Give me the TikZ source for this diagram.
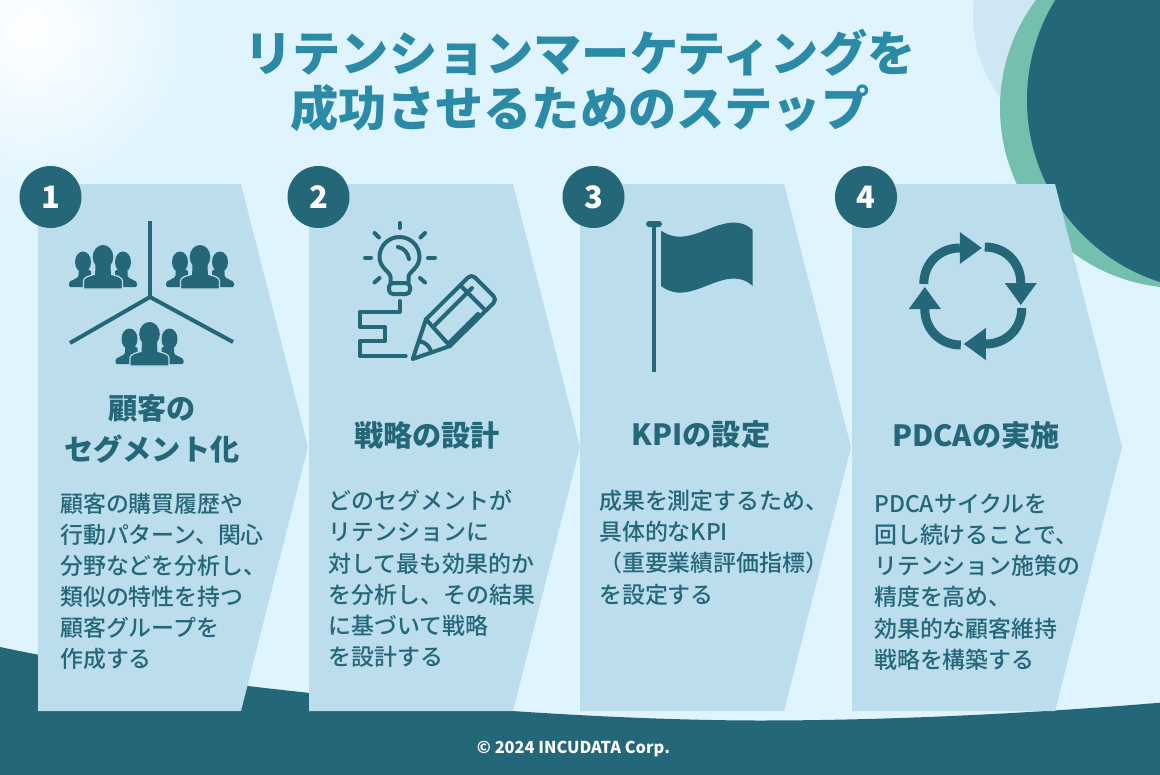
\documentclass[tikz,border=0pt]{standalone}
\usepackage{fontspec}
\setmainfont{Noto Sans CJK JP}
\newfontfamily\jpmedium{Noto Sans CJK JP Medium}
\usetikzlibrary{positioning}

\definecolor{deepteal}{HTML}{246778}
\definecolor{titleteal}{HTML}{2B8AA6}
\definecolor{mintgreen}{HTML}{75BFAE}
\definecolor{palesky}{HTML}{DFF4FF}
\definecolor{paleblue}{HTML}{CFE7F5}
\definecolor{panelblue}{HTML}{BBDDEC}

\tikzset{
  numdot/.style={circle,fill=deepteal,text=white,inner sep=0pt,minimum size=62bp,font=\fontsize{31}{31}\selectfont\bfseries},
  headtext/.style={text=deepteal,align=center,inner sep=0pt,font=\fontsize{29.3}{42}\selectfont\bfseries},
  bodytext/.style={text=deepteal,align=left,anchor=north west,inner sep=0pt,font=\fontsize{23}{31.3}\selectfont\jpmedium},
  titletext/.style={text=titleteal,align=center,inner sep=0pt,font=\fontsize{48.4}{55.5}\selectfont\bfseries},
  iconline/.style={draw=deepteal,line width=4bp,line cap=round,line join=round},
  sideperson/.pic={
    \fill[deepteal] (0,-25) ellipse (8 and 10.5);
    \fill[deepteal,rounded corners=1.5] (-4.5,-17) -- (-4.5,-10) -- (-14,-5) -- (-14,0) -- (8,0) -- (8,-17) -- cycle;
  },
  people/.pic={
    \pic at (-20,0) {sideperson};
    \pic[xscale=-1] at (20,0) {sideperson};
    \fill[deepteal,draw=panelblue,line width=1.2bp] (0,-30) ellipse (10.3 and 12);
    \fill[deepteal,draw=panelblue,line width=1.2bp] (-19.5,2) -- (-19.5,-6) .. controls (-19.5,-10) and (-14,-11) .. (-7,-13) -- (7,-13) .. controls (14,-11) and (19.5,-10) .. (19.5,-6) -- (19.5,2) -- cycle;
    \fill[deepteal] (-8,-10) -- (-7.5,-22) -- (7.5,-22) -- (8,-10) -- cycle;
    \fill[deepteal] (0,-30) ellipse (10.3 and 12);
  },
  cyclearrow/.pic={
    \draw[deepteal,line width=9bp] (-49,-12) .. controls (-49,-33) and (-33,-48) .. (-13,-48);
    \fill[deepteal] (-13,-64) -- (9,-48) -- (-13,-32) -- cycle;
  }
}

\begin{document}
\begin{tikzpicture}[x=1bp,y=-1bp]
\useasboundingbox (0,0) rectangle (1160,775);
\clip (0,0) rectangle (1160,775);

% background
\fill[palesky] (0,0) rectangle (1160,775);
\shade[inner color=white,outer color=palesky] (30,30) circle (170);
\fill[paleblue] (1111,15) circle (138);
\fill[mintgreen] (1180,108) circle (180);
\fill[deepteal] (1218,100) circle (191);
\fill[deepteal] (0,647) .. controls (83,664.5) and (165,676.5) .. (248,686) .. controls (340,697) and (440,706) .. (512,711) .. controls (600,717) and (690,720.5) .. (760,720.5) .. controls (900,720.5) and (1050,712) .. (1160,702.7) -- (1160,775) -- (0,775) -- cycle;

% panels
\fill[panelblue] (38,184) -- (241,184) -- (308,447) -- (241,711) -- (38,711) -- cycle;
\fill[panelblue] (309,184) -- (513,184) -- (580,447) -- (513,711) -- (309,711) -- cycle;
\fill[panelblue] (580,184) -- (784,184) -- (851,447) -- (784,711) -- (580,711) -- cycle;
\fill[panelblue] (852,184) -- (1055,184) -- (1122,447) -- (1055,711) -- (852,711) -- cycle;

\node[titletext] (title) at (580,80.5) {リテンションマーケティングを\\成功させるためのステップ};

\node[numdot] (num1) at (50.5,197) {1};
\node[numdot] (num2) at (318.5,197) {2};
\node[numdot] (num3) at (593.5,197) {3};
\node[numdot] (num4) at (866,197) {4};

% step 1 icon
\draw[deepteal,line width=4bp] (150,221) -- (150,297);
\draw[deepteal,line width=4bp] (70,343) -- (150,297) -- (233,342);
\pic at (103,287) {people};
\pic at (200,287) {people};
\pic at (149.5,364) {people};

% step 2 icon
\draw[iconline] (390.5,282) -- (390.5,277) .. controls (390.5,272) and (379.5,268) .. (379.5,257) arc[start angle=180,end angle=360,radius=20] .. controls (419.5,268) and (408.5,272) .. (408.5,277) -- (408.5,282);
\draw[iconline,rounded corners=4] (389,283) -- (389,294) -- (410,294) -- (410,283) -- cycle;
\draw[iconline] (398,247) .. controls (404,248) and (408,253) .. (409,259);
\draw[iconline] (399.5,223) -- (399.5,228);
\draw[iconline] (365,257.7) -- (371,257.7);
\draw[iconline] (428,257.7) -- (435,257.7);
\draw[iconline] (374.5,233) -- (379,237.5);
\draw[iconline] (425,233) -- (420.5,237.5);
\draw[iconline] (374.5,282.5) -- (379.5,278);
\draw[iconline] (425,282.5) -- (420,278);
\draw[iconline] (399.7,301) -- (399.7,311.7) -- (360,311.7) -- (360,326.7) -- (385,326.7) -- (385,341) -- (360,341) -- (360,356) -- (405.7,356);
\draw[iconline] (412.7,359) -- (426,319.3) -- (468,277.5) .. controls (470,275.5) and (473,275.5) .. (475,277.5) -- (493.5,296) .. controls (495.5,298) and (495.5,301) .. (493.5,303) -- (450,346) -- cycle;
\draw[iconline] (462,287) -- (484,309);
\draw[iconline] (426,319.3) -- (450,346);
\draw[iconline] (433,327) -- (472,288);
\draw[iconline] (449,343) -- (478,314);
\draw[iconline] (420,341.5) .. controls (425,342) and (429,346) .. (430.5,350);

% step 3 icon
\fill[deepteal] (651.7,226) rectangle (656.4,371.7);
\fill[deepteal,rounded corners=3] (646,221) rectangle (662,227);
\fill[deepteal] (661,230.7) .. controls (672,238) and (682,238) .. (695,234) .. controls (710,230) and (735,213) .. (752.7,230) -- (752.7,286) .. controls (735,269) and (710,286) .. (695,290) .. controls (682,294) and (672,294) .. (661,286) -- cycle;

% step 4 icon
\pic at (972.8,296) {cyclearrow};
\pic[rotate=90] at (972.8,296) {cyclearrow};
\pic[rotate=180] at (972.8,296) {cyclearrow};
\pic[rotate=270] at (972.8,296) {cyclearrow};

\node[headtext] (head1) at (152,429) {顧客の\\セグメント化};
\node[headtext] (head2) at (427,435) {戦略の設計};
\node[headtext] (head3) at (701,435) {KPIの設定};
\node[headtext] (head4) at (976,435) {PDCAの実施};

\node[bodytext] (body1) at (60,492.5) {顧客の購買履歴や\\行動パターン、関心\\分野などを分析し、\\類似の特性を持つ\\顧客グループを\\作成する};
\node[bodytext] (body2) at (328.5,490) {どのセグメントが\\リテンションに\\対して最も効果的か\\を分析し、その結果\\に基づいて戦略\\を設計する};
\node[bodytext] (body3) at (599,490) {成果を測定するため、\\具体的なKPI\\（重要業績評価指標）\\を設定する};
\node[bodytext] (body4) at (874,493.5) {PDCAサイクルを\\回し続けることで、\\リテンション施策の\\精度を高め、\\効果的な顧客維持\\戦略を構築する};

\node[text=white,inner sep=0pt,font=\fontsize{16.4}{16}\selectfont\bfseries] (copyright) at (573.5,748.5) {© 2024 INCUDATA Corp.};
\end{tikzpicture}
\end{document}
